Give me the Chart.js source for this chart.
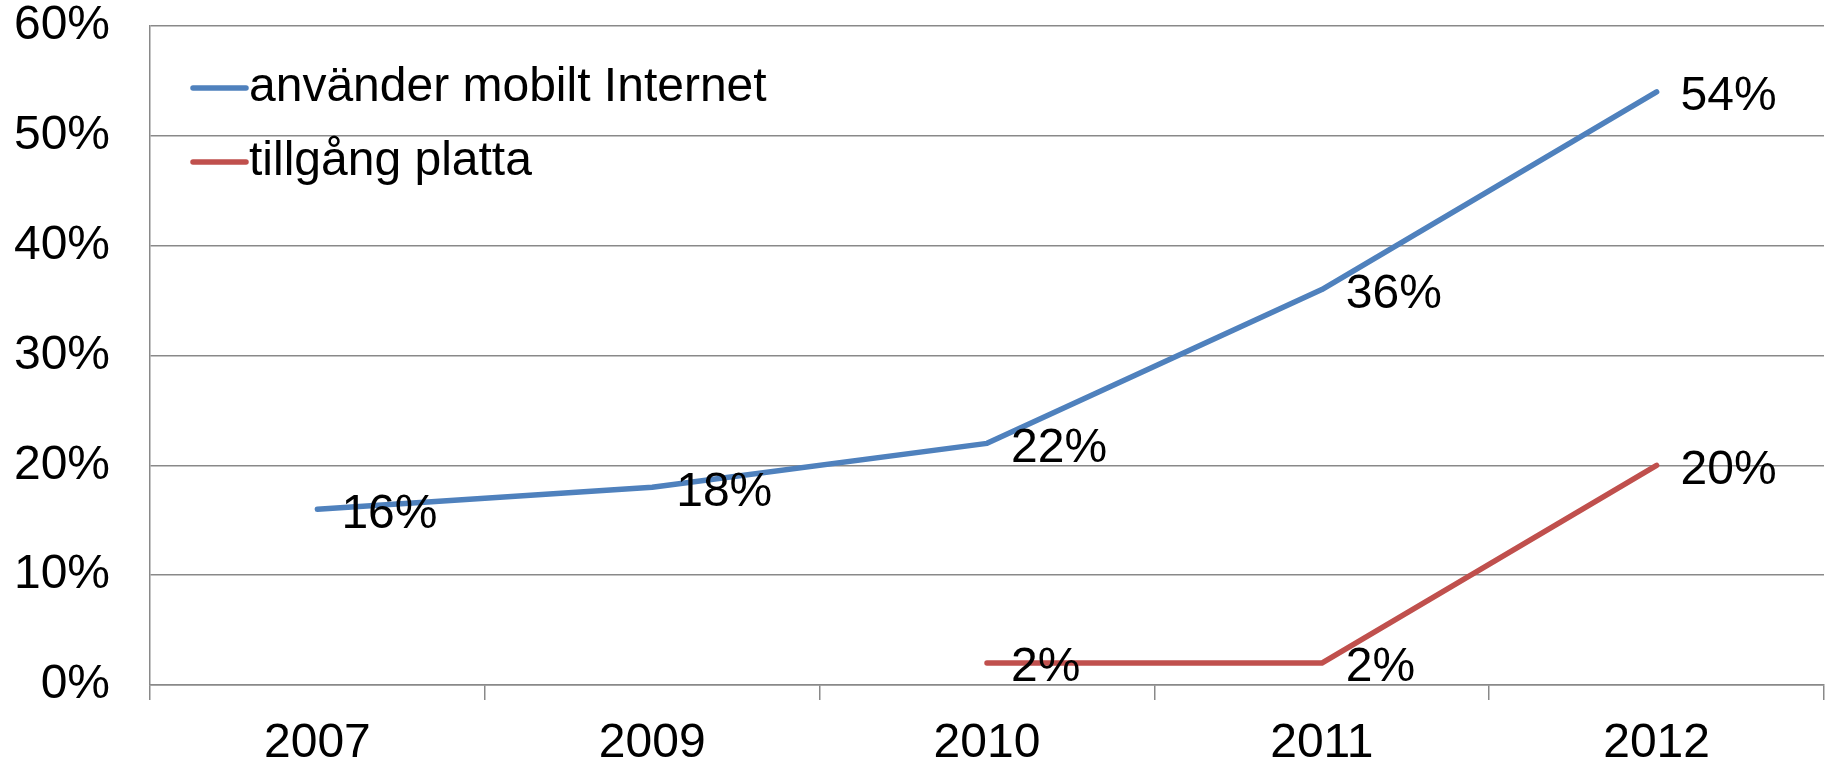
<!DOCTYPE html>
<html>
<head>
<meta charset="utf-8">
<script src="https://cdn.jsdelivr.net/npm/chart.js@4/dist/chart.umd.min.js"></script>
<style>
    html, body { margin: 0; padding: 0; background: #fff; }
    #wrap { width: 1836px; height: 766px; }
</style>
</head>
<body>
<div id="wrap"><canvas id="lineChart" width="1836" height="766"></canvas></div>
<script>
// Data
const years = ['2007', '2009', '2010', '2011', '2012'];
const mobileInternet = [16, 18, 22, 36, 54];
const tabletAccess = [null, null, 2, 2, 20];
const seriesNames = ['använder mobilt Internet', 'tillgång platta'];
const yTicks = [0, 10, 20, 30, 40, 50, 60];

const FONT = '"Liberation Sans", Arial, sans-serif';
const FONT_SIZE = 48;

// Value labels next to each point
const valueLabels = {
    id: 'valueLabels',
    afterDatasetsDraw(chart) {
        const ctx = chart.ctx;
        ctx.save();
        ctx.font = FONT_SIZE + 'px ' + FONT;
        ctx.fillStyle = '#000';
        ctx.textAlign = 'left';
        ctx.textBaseline = 'middle';
        chart.data.datasets.forEach((ds, i) => {
            const meta = chart.getDatasetMeta(i);
            meta.data.forEach((pt, j) => {
                const v = ds.data[j];
                if (v === null || v === undefined) return;
                ctx.fillText(v + '%', pt.x + 24, pt.y + 5);
            });
        });
        ctx.restore();
    }
};

// Legend drawn inside the plot, top-left
const innerLegend = {
    id: 'innerLegend',
    afterDraw(chart) {
        const ctx = chart.ctx;
        const area = chart.chartArea;
        ctx.save();
        ctx.font = FONT_SIZE + 'px ' + FONT;
        ctx.textAlign = 'left';
        ctx.textBaseline = 'middle';
        chart.data.datasets.forEach((ds, i) => {
            const y = area.top + 62 + i * 74;
            ctx.strokeStyle = ds.borderColor;
            ctx.lineWidth = 5.5;
            ctx.lineCap = 'round';
            ctx.beginPath();
            ctx.moveTo(area.left + 43, y);
            ctx.lineTo(area.left + 96, y);
            ctx.stroke();
            ctx.fillStyle = '#000';
            ctx.fillText(ds.label, area.left + 99, y);
        });
        ctx.restore();
    }
};

new Chart(document.getElementById('lineChart'), {
    type: 'line',
    data: {
        labels: years,
        datasets: [
            {
                label: seriesNames[0],
                data: mobileInternet,
                borderColor: '#4F81BD',
                borderWidth: 5.5,
                pointRadius: 0,
                tension: 0,
                borderCapStyle: 'round',
                borderJoinStyle: 'round'
            },
            {
                label: seriesNames[1],
                data: tabletAccess,
                borderColor: '#C0504D',
                borderWidth: 5.5,
                pointRadius: 0,
                tension: 0,
                borderCapStyle: 'round',
                borderJoinStyle: 'round'
            }
        ]
    },
    options: {
        responsive: false,
        animation: false,
        layout: { padding: { right: 12, top: 0, left: 0, bottom: 0 } },
        plugins: {
            legend: { display: false },
            tooltip: { enabled: false }
        },
        scales: {
            x: {
                offset: true,
                grid: {
                    offset: true,
                    drawOnChartArea: false,
                    color: '#898989',
                    lineWidth: 1.5,
                    tickLength: 15
                },
                border: { color: '#898989', width: 1.5 },
                ticks: {
                    color: '#000',
                    font: { size: FONT_SIZE, family: FONT },
                    padding: 15,
                    maxRotation: 0
                },
                afterFit: s => { s.height = 81; }
            },
            y: {
                min: 0,
                max: 60,
                afterBuildTicks: s => { s.ticks = yTicks.map(v => ({ value: v })); },
                grid: {
                    color: '#898989',
                    lineWidth: 1.5,
                    drawTicks: false
                },
                border: { color: '#898989', width: 1.5 },
                ticks: {
                    color: '#000',
                    font: { size: FONT_SIZE, family: FONT },
                    padding: 40,
                    callback: v => v + '%'
                },
                afterFit: s => {
                    s.width = 150;
                    s.paddingTop = 26;
                    s.paddingBottom = 0;
                }
            }
        }
    },
    plugins: [valueLabels, innerLegend]
});
</script>
</body>
</html>
